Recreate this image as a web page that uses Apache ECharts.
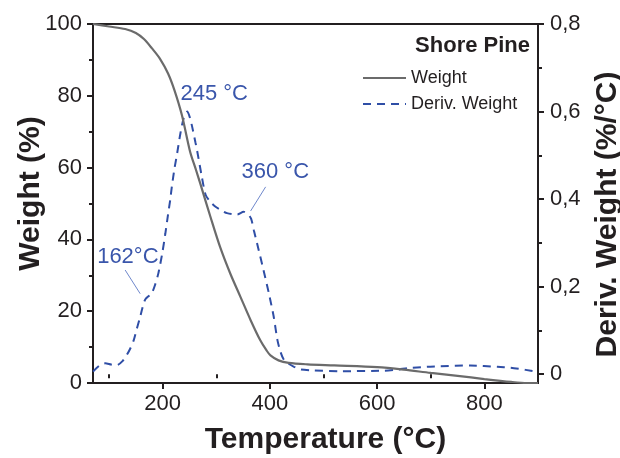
<!DOCTYPE html>
<html>
<head>
<meta charset="utf-8">
<script src="https://cdn.jsdelivr.net/npm/echarts@6/dist/echarts.min.js"></script>
<style>
html,body{margin:0;padding:0;background:#fff;}
#chart{width:620px;height:458px;}
</style>
</head>
<body>
<div id="chart"></div>
<script>
// ---- data ----
var weightData = [
  [70,100],[100,99.3],[130,98.6],[150,97.5],[165,95.8],[180,93.2],[195,90.3],[210,86.2],
  [222,81.5],[236,74.5],[251,64.5],[262,59.4],[270,55.6],[289,46.3],[307,37.9],[326,30.5],
  [345,24.0],[364,17.5],[382,11.9],[394,9.0],[401,7.7],[416,6.3],[435,5.6],[470,5.2],
  [520,4.9],[600,4.4],[650,3.7],[700,2.8],[750,2.0],[800,1.1],[850,0.3],[880,0],[900,0]
];
var derivData = [
  [70,0.006],[82,0.02],[93,0.025],[104,0.022],[115,0.021],[125,0.03],[133,0.044],[140,0.06],
  [146,0.078],[152,0.105],[158,0.131],[164,0.16],[168,0.172],[175,0.18],[180,0.186],[186,0.205],
  [192,0.231],[199,0.275],[205,0.322],[210,0.365],[214,0.398],[217,0.428],[222,0.47],[227,0.505],
  [233,0.55],[239,0.584],[246,0.600],[251,0.585],[255,0.565],[261,0.53],[264,0.512],[273,0.451],
  [280,0.41],[288,0.395],[298,0.383],[310,0.374],[320,0.368],[339,0.365],[351,0.371],[360,0.364],
  [365,0.355],[370,0.329],[379,0.284],[388,0.238],[398,0.185],[407,0.132],[414,0.078],[420,0.05],
  [426,0.033],[435,0.024],[445,0.017],[457,0.011],[480,0.009],[531,0.007],[612,0.008],[640,0.011],
  [656,0.014],[693,0.017],[718,0.018],[774,0.02],[824,0.017],[849,0.015],[877,0.010],[898,0.006]
];
var xMajorTicks = [200,400,600,800];
var xMinorTicks = [100,300,500,700];
var rightMajorTicks = [0,0.2,0.4,0.6,0.8];
var rightMinorTicks = [0.1,0.3,0.5,0.7];
var seriesNames = ['Weight','Deriv. Weight'];
var chartTitle = 'Shore Pine';
var peakLabels = ['245 °C','360 °C','162°C'];
var peakLabelAt = [[296,0.64],[410,0.461],[135,0.269]];
var arrowLines = [
  [[130,0.238],[158,0.184]],
  [[392,0.428],[364,0.373]]
];

// ---- chart ----
var FONT = 'Liberation Sans, Arial, Helvetica, sans-serif';
var TXT = '#231f20';
var BLUE = '#2f4ea6';
var GRAY = '#6b6b6b';
var chart = echarts.init(document.getElementById('chart'), null, {renderer:'canvas'});

function rightFmt(v){ return Math.abs(v) < 1e-9 ? '0' : v.toFixed(1).replace('.', ','); }

var option = {
  animation:false,
  backgroundColor:'#fff',
  textStyle:{fontFamily:FONT, color:TXT},
  title:{
    text:chartTitle, right:85, top:30,
    textStyle:{fontFamily:FONT, fontSize:22, fontWeight:'bold', color:TXT}
  },
  legend:{
    orient:'vertical', left:362, top:69, padding:0,
    itemWidth:43, itemHeight:16, itemGap:8,
    data:seriesNames,
    itemStyle:{opacity:0},
    textStyle:{fontFamily:FONT, fontSize:18, color:TXT}
  },
  grid:{left:93, right:82, top:24, bottom:75, show:true, borderColor:TXT, borderWidth:2,
        backgroundColor:'transparent', containLabel:false, outerBoundsMode:'none'},
  xAxis:[
    {
      type:'value', min:70, max:900, position:'bottom',
      name:'Temperature (°C)', nameLocation:'middle', nameGap:42, nameMoveOverlap:false,
      nameTextStyle:{fontFamily:FONT, fontSize:30, fontWeight:'bold', color:TXT, padding:[0,0,0,20]},
      axisLine:{show:true, lineStyle:{color:TXT, width:2}},
      axisTick:{show:true, inside:false, length:6, lineStyle:{color:TXT, width:2}, customValues:xMajorTicks},
      axisLabel:{show:true, fontSize:22, color:TXT, margin:10, fontFamily:FONT, customValues:xMajorTicks},
      splitLine:{show:false}
    },
    {
      type:'value', min:70, max:900, position:'bottom', offset:0,
      axisLine:{show:false},
      axisTick:{show:true, inside:false, length:4, lineStyle:{color:TXT, width:2}, customValues:xMinorTicks},
      axisLabel:{show:false},
      splitLine:{show:false}
    }
  ],
  yAxis:[
    {
      type:'value', min:0, max:100, interval:20, position:'left',
      name:'Weight (%)', nameLocation:'middle', nameGap:47, nameRotate:90, nameMoveOverlap:false,
      nameTextStyle:{fontFamily:FONT, fontSize:30, fontWeight:'bold', color:TXT, padding:[0,0,0,20]},
      axisLine:{show:true, lineStyle:{color:TXT, width:2}},
      axisTick:{show:true, inside:false, length:6, lineStyle:{color:TXT, width:2}},
      minorTick:{show:true, splitNumber:2, length:4, lineStyle:{color:TXT, width:2}},
      axisLabel:{fontSize:22, color:TXT, margin:11, fontFamily:FONT},
      splitLine:{show:false}, minorSplitLine:{show:false}
    },
    {
      type:'value', min:-0.02, max:0.8, position:'right',
      name:'Deriv. Weight (%/°C)', nameLocation:'middle', nameGap:55, nameRotate:90,
      nameTextStyle:{fontFamily:FONT, fontSize:30, fontWeight:'bold', color:TXT, padding:[0,22,0,0]},
      axisLine:{show:true, lineStyle:{color:TXT, width:2}},
      axisTick:{show:true, inside:false, length:6, lineStyle:{color:TXT, width:2}, customValues:rightMajorTicks},
      axisLabel:{fontSize:22, color:TXT, margin:12, fontFamily:FONT, customValues:rightMajorTicks, formatter:rightFmt},
      splitLine:{show:false}
    },
    {
      type:'value', min:-0.02, max:0.8, position:'right', offset:0,
      axisLine:{show:false},
      axisTick:{show:true, inside:false, length:4, lineStyle:{color:TXT, width:2}, customValues:rightMinorTicks},
      axisLabel:{show:false},
      splitLine:{show:false}
    }
  ],
  series:[
    {
      name:seriesNames[0], type:'line', xAxisIndex:0, yAxisIndex:0,
      data:weightData, smooth:0.3, symbol:'none', showSymbol:false,
      lineStyle:{color:GRAY, width:2.2, type:'solid'},
      itemStyle:{color:GRAY},
      z:3
    },
    {
      name:seriesNames[1], type:'line', xAxisIndex:0, yAxisIndex:1,
      data:derivData, smooth:0.25, symbol:'none', showSymbol:false,
      lineStyle:{color:BLUE, width:2, type:[8,6]},
      itemStyle:{color:BLUE},
      z:2,
      markPoint:{
        symbol:'circle', symbolSize:0, silent:true,
        label:{show:true, position:'inside', fontFamily:FONT, fontSize:22, color:'#3a56ab', formatter:function(p){return p.name;}},
        data:peakLabels.map(function(t,i){ return {name:t, coord:peakLabelAt[i]}; })
      },
      markLine:{
        silent:true, symbol:['none','arrow'], symbolSize:[0,10],
        label:{show:false},
        lineStyle:{color:'#6f88cc', width:1, type:'solid'},
        data:arrowLines.map(function(a){ return [{coord:a[0]},{coord:a[1]}]; })
      }
    }
  ]
};
chart.setOption(option);
</script>
</body>
</html>
